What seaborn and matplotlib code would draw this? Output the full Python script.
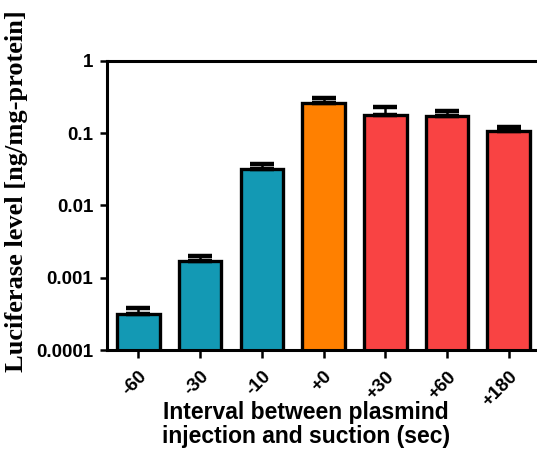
import numpy as np
import matplotlib
matplotlib.use("Agg")
import matplotlib.pyplot as plt
import seaborn as sns

# data
intervals = ["-60", "-30", "-10", "+0", "+30", "+60", "+180"]
luciferase = [3.15e-4, 1.72e-3, 0.0316, 0.263, 0.178, 0.172, 0.105]
err_upper = [0.65e-4, 0.28e-3, 0.0058, 0.039, 0.051, 0.028, 0.015]
bar_colors = ["#1399b4", "#1399b4", "#1399b4", "#ff8000", "#f94343", "#f94343", "#f94343"]
ytick_vals = [0.0001, 0.001, 0.01, 0.1, 1]
ytick_labels = ["0.0001", "0.001", "0.01", "0.1", "1"]

sns.set_style("ticks")
plt.rcParams["font.family"] = ["Liberation Sans", "DejaVu Sans"]
plt.rcParams["text.color"] = "black"
plt.rcParams["axes.labelcolor"] = "black"
plt.rcParams["xtick.color"] = "black"
plt.rcParams["ytick.color"] = "black"
plt.rcParams["axes.edgecolor"] = "black"

fig = plt.figure(figsize=(5.37, 4.65), dpi=100)
ax = fig.add_axes([0.1993, 0.2473, 0.8007, 0.6222])

sns.barplot(x=intervals, y=luciferase, hue=intervals, palette=bar_colors,
            saturation=1, edgecolor="black", linewidth=2.4, width=0.69,
            legend=False, ax=ax)
ax.set_yscale("log", nonpositive="clip")

# upper error bars only
xpos = np.arange(len(intervals))
ax.errorbar(xpos, luciferase, yerr=[np.zeros(len(err_upper)), err_upper],
            fmt="none", ecolor="black", elinewidth=1.8, capsize=8.5,
            capthick=3.2, zorder=5)

ax.set_ylim(1e-4, 1)
ax.set_xlim(-0.51, 6.46)
ax.set_yticks(ytick_vals)
ax.set_yticklabels(ytick_labels, fontsize=13.5, fontweight="bold")
ax.yaxis.set_minor_locator(matplotlib.ticker.NullLocator())
ax.set_xticks(xpos)
ax.set_xticklabels(intervals, rotation=45, ha="right", rotation_mode="anchor",
                   fontsize=13.5, fontweight="bold")

for side in ["left", "bottom", "top"]:
    ax.spines[side].set_linewidth(2.2)
ax.spines["right"].set_visible(False)
ax.tick_params(axis="both", direction="out", width=1.8, color="black")
ax.tick_params(axis="y", length=5, pad=5)
ax.tick_params(axis="x", length=6, pad=7)

ax.set_xlabel("Interval between plasmind\ninjection and suction (sec)",
              fontsize=16.5, fontweight="bold", linespacing=1.05)
ax.xaxis.set_label_coords(0.463, -0.175)
ax.xaxis.label.set_va("top")

ax.set_ylabel("Luciferase level [ng/mg-protein]", fontsize=19,
              fontweight="bold", family=["Liberation Serif", "DejaVu Serif"],
              va="center")
ax.yaxis.set_label_coords(-0.21, 0.55)

fig.savefig("out.png", dpi=100)
